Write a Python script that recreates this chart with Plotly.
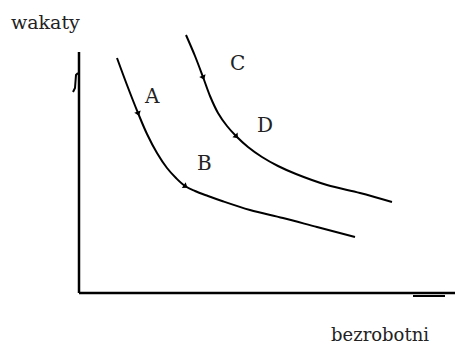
import plotly.graph_objects as go

# Beveridge curves: unemployment (bezrobotni) vs vacancies (wakaty)
u_low = [1.52, 1.92, 2.36, 2.72, 3.12, 3.52, 3.88, 4.24, 4.64, 5.16, 5.72, 6.84, 8.16, 9.52, 11.04]
v_low = [9.40, 8.32, 7.20, 6.36, 5.60, 5.00, 4.60, 4.28, 4.08, 3.88, 3.68, 3.32, 3.00, 2.64, 2.24]

u_high = [4.28, 4.64, 4.96, 5.24, 5.56, 5.92, 6.28, 6.76, 7.32, 7.96, 8.68, 9.92, 11.24, 12.52]
v_high = [10.32, 9.48, 8.64, 7.88, 7.20, 6.68, 6.28, 5.84, 5.44, 5.08, 4.76, 4.32, 4.00, 3.64]

# small arrow marks along the curves
mark_u = [2.36, 4.24, 4.96, 6.28]
mark_v = [7.20, 4.28, 8.64, 6.28]
mark_angle = [-20, -56, -24, -41]

# point labels
labels = ["A", "B", "C", "D"]
label_u = [2.92, 5.0, 6.32, 7.44]
label_v = [7.88, 5.2, 9.2, 6.72]

# axes ends
x_axis_u = [0, 15.36]
x_axis_v = [0, 0]
y_axis_u = [0, 0]
y_axis_v = [0, 9.64]

serif = "DejaVu Serif"

fig = go.Figure()

fig.add_trace(go.Scatter(x=x_axis_u, y=x_axis_v, mode="lines",
                         line=dict(color="black", width=2.5)))
fig.add_trace(go.Scatter(x=y_axis_u, y=y_axis_v, mode="lines",
                         line=dict(color="black", width=2.5)))
# hand drawn arrow hints at the axis ends
fig.add_trace(go.Scatter(x=[-0.04, -0.12, -0.16, -0.24], y=[8.8, 8.72, 8.2, 8.04], mode="lines",
                         line=dict(color="black", width=2)))
fig.add_trace(go.Scatter(x=[13.36, 14.64], y=[-0.12, -0.12], mode="lines",
                         line=dict(color="black", width=2)))

fig.add_trace(go.Scatter(x=u_low, y=v_low, mode="lines", line_shape="spline",
                         line=dict(color="black", width=2)))
fig.add_trace(go.Scatter(x=u_high, y=v_high, mode="lines", line_shape="spline",
                         line=dict(color="black", width=2)))
fig.add_trace(go.Scatter(x=mark_u, y=mark_v, mode="markers",
                         marker=dict(symbol="triangle-down", size=6, color="black",
                                     angle=mark_angle)))

for t, x, y in zip(labels, label_u, label_v):
    fig.add_annotation(x=x, y=y, text=t, showarrow=False,
                       font=dict(family=serif, size=20, color="#222"))

fig.add_annotation(x=-1.36, y=10.84, text="wakaty", showarrow=False,
                   font=dict(family=serif, size=19, color="#222"))
fig.add_annotation(x=12.04, y=-1.64, text="bezrobotni", showarrow=False,
                   font=dict(family=serif, size=18, color="#222"))

# page has an 8px body margin, so the figure is a bit smaller than the window
fig.update_xaxes(range=[-2.84, 15.36], visible=False)
fig.update_yaxes(range=[-2.04, 11.40], visible=False)
fig.update_layout(width=455, height=336, margin=dict(l=0, r=0, t=0, b=0),
                  showlegend=False, plot_bgcolor="white", paper_bgcolor="white")

fig.write_html("out.html")
